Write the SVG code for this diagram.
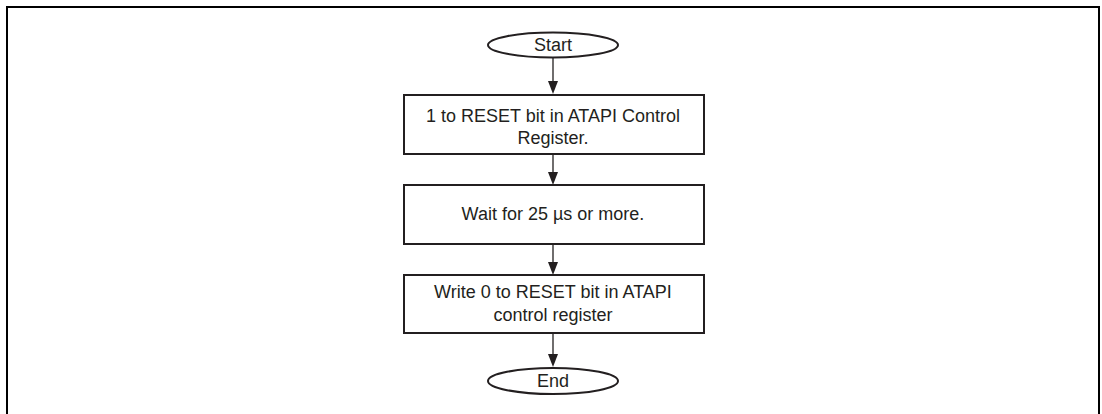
<svg xmlns="http://www.w3.org/2000/svg" width="1102" height="414" viewBox="0 0 1102 414">
<style>
.shape{fill:#fff;stroke:#231f20;stroke-width:2}
.line{stroke:#231f20;stroke-width:1.3;fill:none}
.head{fill:#231f20}
.t{font-family:"Liberation Sans",Arial,sans-serif;font-size:18px;fill:#231f20;text-anchor:middle}
</style>
<rect x="0" y="0" width="1102" height="414" fill="#fff"/>
<path d="M7 420 V7 H1099 V420" fill="none" stroke="#000" stroke-width="2"/>
<g id="connectors">
<path class="line" d="M553 57 V82"/><polygon class="head" points="548,81 558,81 553,94"/>
<path class="line" d="M553 154 V173"/><polygon class="head" points="548,172 558,172 553,185"/>
<path class="line" d="M553 244 V263"/><polygon class="head" points="548,262 558,262 553,275"/>
<path class="line" d="M553 333 V355"/><polygon class="head" points="548,354 558,354 553,367"/>
</g>
<g id="start"><ellipse class="shape" cx="553" cy="45" rx="65" ry="12.5"/><text class="t" x="553" y="51">Start</text></g>
<g id="step1"><rect class="shape" x="404" y="95" width="300" height="59"/><text class="t" x="553" y="122">1 to RESET bit in ATAPI Control</text><text class="t" x="553" y="144">Register.</text></g>
<g id="step2"><rect class="shape" x="404" y="185" width="300" height="59"/><text class="t" x="553" y="220">Wait for 25 µs or more.</text></g>
<g id="step3"><rect class="shape" x="404" y="275" width="300" height="58"/><text class="t" x="553" y="298">Write 0 to RESET bit in ATAPI</text><text class="t" x="553" y="321">control register</text></g>
<g id="end"><ellipse class="shape" cx="553" cy="381" rx="65" ry="13"/><text class="t" x="553" y="387">End</text></g>
</svg>
